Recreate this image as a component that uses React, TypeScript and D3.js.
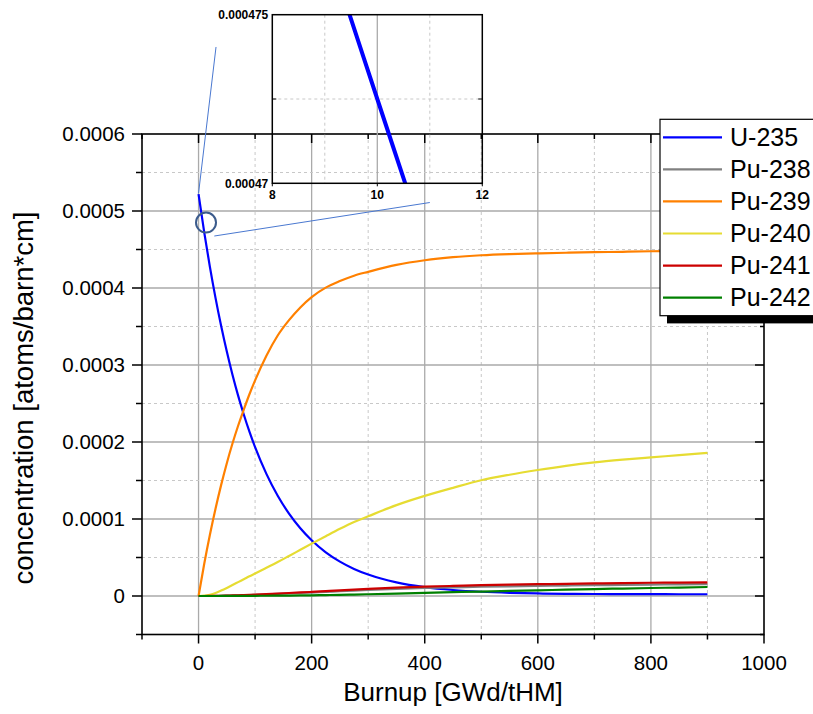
import React from 'react';
import * as d3 from 'd3';

// burnup steps [GWd/tHM] and number densities [atoms/barn*cm]
const burnup = [0, 10, 20, 30, 40, 50, 60, 70, 80, 90, 100, 120, 140, 160, 180, 200, 225, 250, 275, 300, 350, 400, 450, 500, 550, 600, 650, 700, 750, 800, 850, 900];

const u235 = [0.000522, 0.0004725, 0.0004277, 0.0003872, 0.0003506, 0.0003174, 0.0002874, 0.0002602, 0.0002357, 0.0002134, 0.0001933, 0.0001586, 0.0001302, 0.000107, 0.000088, 0.0000724, 0.0000568, 0.0000447, 0.0000352, 0.0000279, 0.0000177, 0.0000115, 0.0000078, 0.0000055, 0.0000041, 0.0000033, 0.0000028, 0.0000026, 0.0000025, 0.0000024, 0.0000023, 0.0000023];
const pu238 = [0, 0, 0.0000001, 0.0000002, 0.0000003, 0.0000004, 0.0000006, 0.0000008, 0.000001, 0.0000013, 0.0000015, 0.0000021, 0.0000027, 0.0000033, 0.0000039, 0.0000045, 0.0000054, 0.0000062, 0.0000071, 0.0000079, 0.0000093, 0.0000104, 0.0000113, 0.000012, 0.0000126, 0.0000131, 0.0000136, 0.000014, 0.0000144, 0.0000148, 0.000015, 0.0000153];
const pu239 = [0, 0.0000415, 0.0000792, 0.0001133, 0.0001443, 0.0001725, 0.000198, 0.0002211, 0.000242, 0.000262, 0.00028, 0.000312, 0.0003383, 0.0003583, 0.0003748, 0.0003882, 0.0004005, 0.000409, 0.000416, 0.000421, 0.00043, 0.000436, 0.00044, 0.0004425, 0.000444, 0.000445, 0.0004458, 0.0004465, 0.000447, 0.0004477, 0.0004483, 0.000449];
const pu240 = [0, 0.0000004, 0.0000016, 0.0000038, 0.000007, 0.0000105, 0.0000142, 0.000018, 0.0000218, 0.0000256, 0.0000292, 0.0000366, 0.0000441, 0.000052, 0.00006, 0.000068, 0.0000777, 0.0000872, 0.000096, 0.0001035, 0.000118, 0.00013, 0.0001405, 0.0001503, 0.0001575, 0.0001636, 0.000169, 0.0001735, 0.000177, 0.00018, 0.000183, 0.000186];
const pu241 = [0, 0.00000002, 0.0000001, 0.0000002, 0.0000003, 0.0000005, 0.0000007, 0.0000009, 0.0000012, 0.0000015, 0.0000018, 0.0000025, 0.0000032, 0.0000039, 0.0000046, 0.0000053, 0.0000063, 0.0000073, 0.0000083, 0.0000092, 0.0000108, 0.0000121, 0.0000131, 0.000014, 0.0000147, 0.0000153, 0.0000158, 0.0000163, 0.0000168, 0.0000172, 0.0000175, 0.0000178];
const pu242 = [0, 0, 0.00000001, 0.00000002, 0.00000004, 0.00000006, 0.00000009, 0.00000012, 0.00000016, 0.0000002, 0.00000025, 0.00000035, 0.00000047, 0.0000006, 0.00000075, 0.0000009, 0.0000012, 0.0000015, 0.0000019, 0.0000023, 0.0000032, 0.0000041, 0.000005, 0.0000058, 0.0000066, 0.0000074, 0.0000082, 0.000009, 0.0000097, 0.0000104, 0.000011, 0.0000117];

const seriesNames = ['U-235', 'Pu-238', 'Pu-239', 'Pu-240', 'Pu-241', 'Pu-242'];
const seriesValues = [u235, pu238, pu239, pu240, pu241, pu242];
const seriesColors = ['#0000ff', '#808080', '#ff8000', '#e6dc32', '#cc0000', '#008000'];

const xMajor = [0, 200, 400, 600, 800, 1000];
const xMinor = [-100, 100, 300, 500, 700, 900];
const yMajor = d3.range(0, 7).map(i => i * 0.0001);
const yMinor = d3.range(-1, 12, 2).map(i => i * 0.00005);

// zoom window of the inset
const insetX = [8, 12];
const insetY = [0.00047, 0.000475];

const FONT = '"Liberation Sans", Arial, sans-serif';

const App = () => {
  const x = d3.scaleLinear().domain([-100, 1000]).range([142, 764]);
  const y = d3.scaleLinear().domain([-0.00005, 0.0006]).range([634.5, 134]);
  const ix = d3.scaleLinear().domain(insetX).range([272.3, 482.3]);
  const iy = d3.scaleLinear().domain(insetY).range([183.3, 14.7]);

  const line = d3
    .line<number>()
    .x((d, i) => x(burnup[i]))
    .y(d => y(d))
    .curve(d3.curveMonotoneX);
  const insetLine = d3
    .line<number>()
    .x((d, i) => ix(burnup[i]))
    .y(d => iy(d))
    .curve(d3.curveMonotoneX);

  const fmtY = d3.format('.4f');
  const [x0, x1] = x.range();
  const [y0, y1] = y.range();
  const gridV = d3.range(0, 10).map(i => i * 100);
  const gridH = d3.range(0, 12).map(i => i * 0.00005);

  return (
    <svg
      width={813}
      height={714}
      style={{ position: 'absolute', left: 0, top: 0, background: '#fff' }}
      fontFamily={FONT}
    >
      <defs>
        <clipPath id="insetClip">
          <rect x={ix(8)} y={iy(0.000475)} width={ix(12) - ix(8)} height={iy(0.00047) - iy(0.000475)} />
        </clipPath>
      </defs>

      {/* grid */}
      {gridV.map((v, i) => (
        <line
          key={'gv' + v}
          x1={x(v)}
          x2={x(v)}
          y1={y1}
          y2={y0}
          stroke={i % 2 ? '#c8c8c8' : '#aaaaaa'}
          strokeWidth={i % 2 ? 1 : 1.3}
          strokeDasharray={i % 2 ? '3,3' : null}
        />
      ))}
      {gridH.map((v, i) => (
        <line
          key={'gh' + i}
          x1={x0}
          x2={x1}
          y1={y(v)}
          y2={y(v)}
          stroke={i % 2 ? '#c8c8c8' : '#aaaaaa'}
          strokeWidth={i % 2 ? 1 : 1.3}
          strokeDasharray={i % 2 ? '3,3' : null}
        />
      ))}

      {/* curves */}
      {seriesValues.map((vals, i) => (
        <path key={seriesNames[i]} d={line(vals)} fill="none" stroke={seriesColors[i]} strokeWidth={2.2} />
      ))}

      {/* frame and ticks */}
      <rect x={x0} y={y1} width={x1 - x0} height={y0 - y1} fill="none" stroke="#000" strokeWidth={1.6} />
      {xMajor.map(v => (
        <g key={'xt' + v}>
          <line x1={x(v)} x2={x(v)} y1={y0} y2={y0 + 9} stroke="#000" strokeWidth={1.5} />
          <line x1={x(v)} x2={x(v)} y1={y1} y2={y1 + 9} stroke="#000" strokeWidth={1.5} />
          <text x={x(v)} y={670} textAnchor="middle" fontSize={20.5}>
            {v}
          </text>
        </g>
      ))}
      {xMinor.map(v => (
        <g key={'xm' + v}>
          <line x1={x(v)} x2={x(v)} y1={y0} y2={y0 + 5} stroke="#000" strokeWidth={1.5} />
          <line x1={x(v)} x2={x(v)} y1={y1} y2={y1 + 5} stroke="#000" strokeWidth={1.5} />
        </g>
      ))}
      {yMajor.map(v => (
        <g key={'yt' + v}>
          <line x1={x0} x2={x0 - 10} y1={y(v)} y2={y(v)} stroke="#000" strokeWidth={1.5} />
          <line x1={x1} x2={x1 - 9} y1={y(v)} y2={y(v)} stroke="#000" strokeWidth={1.5} />
          <text x={125} y={y(v)} dy="0.35em" textAnchor="end" fontSize={20.5}>
            {v === 0 ? '0' : fmtY(v)}
          </text>
        </g>
      ))}
      {yMinor.map(v => (
        <g key={'ym' + v}>
          <line x1={x0} x2={x0 - 6} y1={y(v)} y2={y(v)} stroke="#000" strokeWidth={1.5} />
          <line x1={x1} x2={x1 - 4} y1={y(v)} y2={y(v)} stroke="#000" strokeWidth={1.5} />
        </g>
      ))}

      {/* axis titles */}
      <text x={(x0 + x1) / 2} y={701} textAnchor="middle" fontSize={26}>
        Burnup [GWd/tHM]
      </text>
      <text transform="translate(33,398) rotate(-90)" textAnchor="middle" fontSize={27.5}>
        concentration [atoms/barn*cm]
      </text>

      {/* zoom marker and connectors */}
      <circle cx={x(13.2)} cy={y(0.000485)} r={10} fill="none" stroke="#3b5b8c" strokeWidth={2} />
      <line x1={x(0)} y1={y(0.000523)} x2={x(30.9)} y2={y(0.000713)} stroke="#4a78d0" strokeWidth={1} />
      <line x1={x(27.9)} y1={y(0.0004675)} x2={x(409)} y2={y(0.000511)} stroke="#4a78d0" strokeWidth={1} />

      {/* inset */}
      <g>
        {[9, 11].map(v => (
          <line key={'iv' + v} x1={ix(v)} x2={ix(v)} y1={iy(insetY[1])} y2={iy(insetY[0])} stroke="#c8c8c8" strokeDasharray="3,3" />
        ))}
        <line x1={ix(10)} x2={ix(10)} y1={iy(insetY[1])} y2={iy(insetY[0])} stroke="#aaaaaa" strokeWidth={1.3} />
        <line x1={ix(8)} x2={ix(12)} y1={iy(0.0004725)} y2={iy(0.0004725)} stroke="#c8c8c8" strokeDasharray="3,3" />
        <path d={insetLine(u235)} fill="none" stroke="#0000ff" strokeWidth={4} clipPath="url(#insetClip)" />
        <rect x={ix(8)} y={iy(0.000475)} width={ix(12) - ix(8)} height={iy(0.00047) - iy(0.000475)} fill="none" stroke="#000" strokeWidth={1.5} />
        <line x1={ix(8)} x2={ix(8) + 4} y1={iy(0.0004725)} y2={iy(0.0004725)} stroke="#000" />
        <line x1={ix(12)} x2={ix(12) - 4} y1={iy(0.0004725)} y2={iy(0.0004725)} stroke="#000" />
        {[8, 10, 12].map(v => (
          <g key={'ixt' + v}>
            <line x1={ix(v)} x2={ix(v)} y1={iy(insetY[0])} y2={iy(insetY[0]) + 3} stroke="#000" />
            <text x={ix(v)} y={iy(insetY[0]) + 16} textAnchor="middle" fontSize={12} fontWeight="bold">
              {v}
            </text>
          </g>
        ))}
        {insetY.map(v => (
          <text key={'iyt' + v} x={ix(8) - 4} y={iy(v)} dy="0.35em" textAnchor="end" fontSize={12} fontWeight="bold">
            {d3.format('.6~f')(v)}
          </text>
        ))}
      </g>

      {/* legend */}
      <g>
        <rect x={667} y={127} width={170} height={196.4} fill="#000" />
        <rect x={660} y={119.3} width={170} height={196.4} fill="#fff" stroke="#000" strokeWidth={1.2} />
        {seriesNames.map((name, i) => (
          <g key={'lg' + name} transform={`translate(0,${137.3 + i * 32.07})`}>
            <line x1={663} x2={722} y1={0} y2={0} stroke={seriesColors[i]} strokeWidth={2.2} />
            <text x={730} y={0} dy="0.35em" fontSize={25}>
              {name}
            </text>
          </g>
        ))}
      </g>
    </svg>
  );
};

export default App;
